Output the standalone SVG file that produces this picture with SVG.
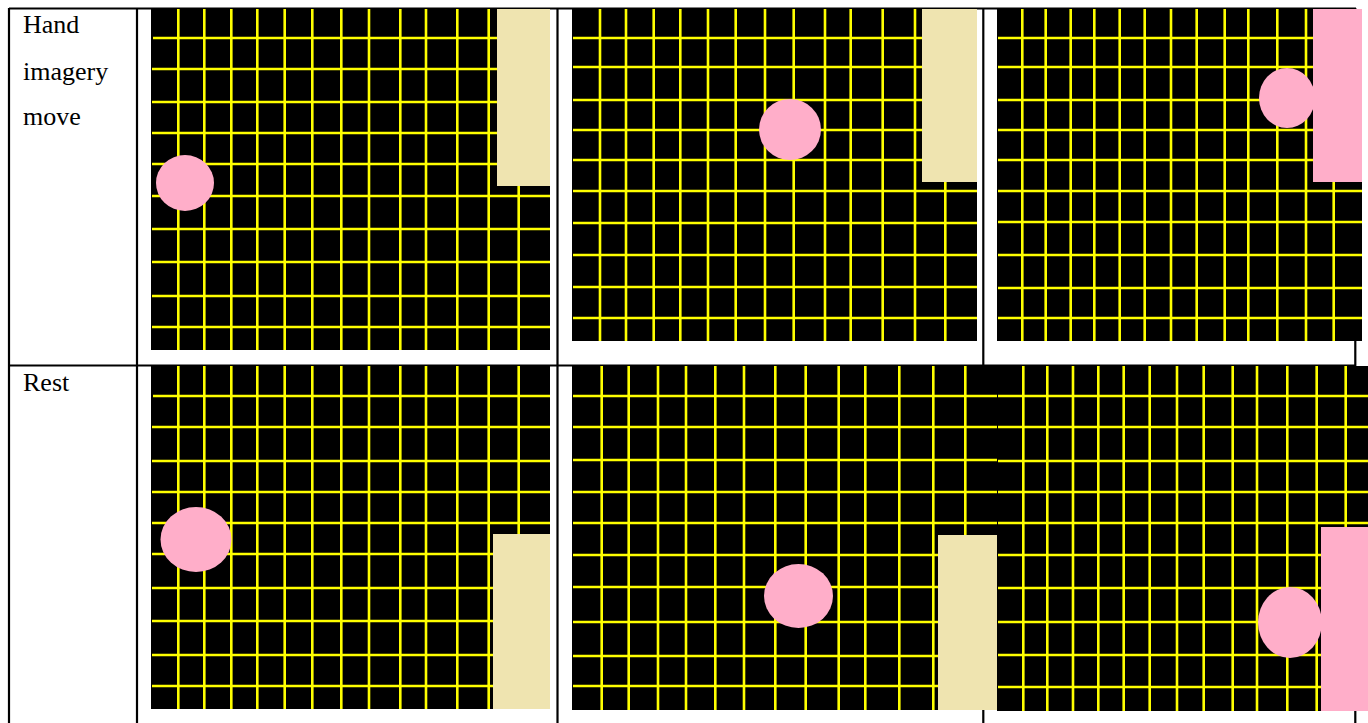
<svg xmlns="http://www.w3.org/2000/svg" width="1368" height="723" viewBox="0 0 1368 723">
<style>
.tbl{stroke:#000;stroke-width:2.2;fill:none}
.bg{fill:#000}
.g{stroke:#ffff00;stroke-width:2.6;fill:none}
.beige{fill:#efe4b0}
.pink{fill:#ffaec9}
.lbl{font-family:"Liberation Serif","Times New Roman",serif;font-size:26px;fill:#000}
</style>
<rect width="1368" height="723" fill="#fff"/>
<g id="table">
<path class="tbl" d="M9 8.5H1356M9 365.5H1356M9 8V723M137 8V723M557.5 8V723M983.3 8V723M1355.3 8V723"/>
</g>
<g id="labels">
<text class="lbl" x="23" y="32.5">Hand</text>
<text class="lbl" x="23" y="79.5">imagery</text>
<text class="lbl" x="23" y="125">move</text>
<text class="lbl" x="23" y="390.5">Rest</text>
</g>
<g id="panel-top-1">
<rect class="bg" x="151" y="9" width="399" height="341"/>
<path class="g" d="M178.3 9V350M204.3 9V350M231.3 9V350M257.3 9V350M284.7 9V350M312.3 9V350M341.3 9V350M369 9V350M400.3 9V350M426 9V350M457.3 9V350M488.7 9V350M518.7 9V350"/>
<path class="g" d="M153 38H550M152 69H550M152 102H550M152 133H550M152 164H550M152 196H550M152 229H550M152 262H550M152 296H550M152 327H550"/>
<rect class="beige" x="497" y="9" width="53" height="177"/>
<ellipse class="pink" cx="185" cy="183" rx="29" ry="28"/>
</g>
<g id="panel-top-2">
<rect class="bg" x="572" y="9" width="405" height="332"/>
<path class="g" d="M600 9V341M626 9V341M653.7 9V341M680.3 9V341M708 9V341M735.7 9V341M765 9V341M793.7 9V341M825 9V341M850.7 9V341M882.7 9V341M915 9V341M945.3 9V341"/>
<path class="g" d="M573 38H977M573 67H977M573 100H977M573 130H977M573 160H977M573 191H977M573 223H977M573 255H977M573 287H977M573 318H977"/>
<rect class="beige" x="922" y="9" width="55" height="173"/>
<ellipse class="pink" cx="790" cy="129.5" rx="31" ry="30.5"/>
</g>
<g id="panel-top-3">
<rect class="bg" x="997" y="9" width="365" height="332"/>
<path class="g" d="M1022.3 9V341M1045.7 9V341M1070.7 9V341M1094.3 9V341M1119.7 9V341M1144.7 9V341M1171 9V341M1196.7 9V341M1224.7 9V341M1248.3 9V341M1277.3 9V341M1306 9V341M1333.7 9V341"/>
<path class="g" d="M998 38H1362M998 67H1362M998 100H1362M998 130H1362M998 160H1362M998 191H1362M998 222H1362M998 255H1362M998 288H1362M998 318H1362"/>
<ellipse class="pink" cx="1287" cy="98" rx="28" ry="30"/>
<rect class="pink" x="1313" y="9" width="49" height="173"/>
</g>
<g id="panel-bottom-1">
<rect class="bg" x="151" y="366" width="399" height="343"/>
<path class="g" d="M178.3 366V709M204.3 366V709M231.3 366V709M257.3 366V709M284.7 366V709M312.3 366V709M341.3 366V709M369 366V709M400.3 366V709M426 366V709M457.3 366V709M488.7 366V709M518.7 366V709"/>
<path class="g" d="M153 396H550M152 427H550M152 461H550M152 492H550M152 523H550M152 554H550M152 588H550M152 621H550M152 655H550M152 686H550"/>
<rect class="beige" x="493" y="534" width="57" height="175"/>
<ellipse class="pink" cx="196" cy="539.5" rx="35.5" ry="32.5"/>
</g>
<g id="panel-bottom-2">
<rect class="bg" x="572" y="366" width="425" height="344"/>
<path class="g" d="M601.7 366V710M628.7 366V710M658 366V710M686 366V710M715.3 366V710M744 366V710M775.3 366V710M805.7 366V710M838.7 366V710M865.3 366V710M899.3 366V710M933.3 366V710M965.3 366V710"/>
<path class="g" d="M573 396H997M573 427H997M573 460H997M573 492H997M573 523H997M573 555H997M573 587H997M573 622H997M573 656H997M573 686H997"/>
<rect class="beige" x="938" y="535" width="59" height="175"/>
<ellipse class="pink" cx="798.5" cy="596" rx="34.5" ry="32"/>
</g>
<g id="panel-bottom-3">
<rect class="bg" x="997" y="366" width="371" height="345"/>
<path class="g" d="M1023.3 366V711M1047.3 366V711M1073 366V711M1098.3 366V711M1123.7 366V711M1149.7 366V711M1177 366V711M1203.7 366V711M1232.7 366V711M1257 366V711M1287.3 366V711M1316.7 366V711M1345.7 366V711"/>
<path class="g" d="M998 396H1368M998 427H1368M998 461H1368M998 492H1368M998 523H1368M998 555H1368M998 588H1368M998 622H1368M998 655H1368M998 687H1368"/>
<ellipse class="pink" cx="1290" cy="622.5" rx="32" ry="35.5"/>
<rect class="pink" x="1321" y="527" width="47" height="184"/>
</g>
</svg>
